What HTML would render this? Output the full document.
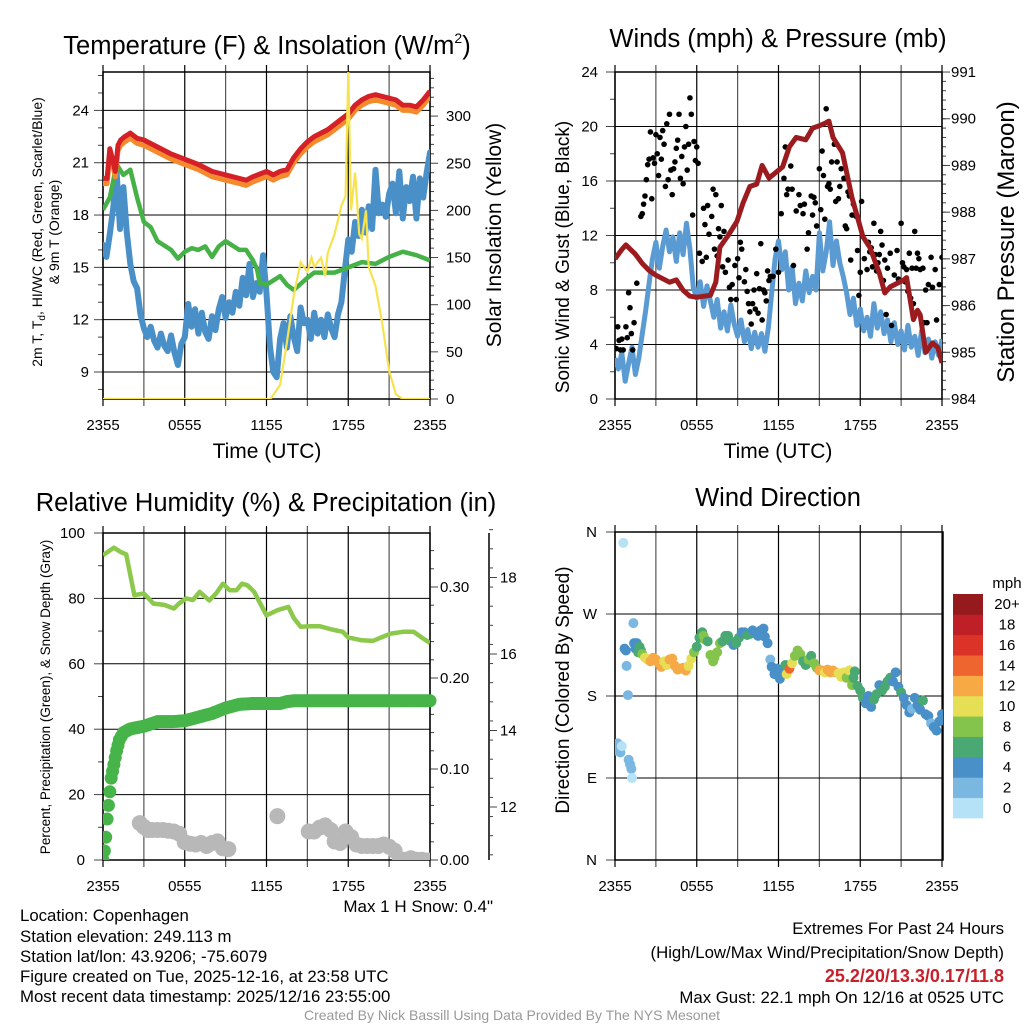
<!DOCTYPE html>
<html><head><meta charset="utf-8"><title>Mesonet Meteogram</title>
<style>
html,body{margin:0;padding:0;background:#fff;}
svg{display:block;font-family:"Liberation Sans",Arial,sans-serif;}
.nar{font-family:"Liberation Sans Narrow","Liberation Sans",sans-serif;}
</style></head>
<body>
<svg id="chart" xmlns="http://www.w3.org/2000/svg" width="1024" height="1024" viewBox="0 0 1024 1024">
<rect x="0" y="0" width="1024" height="1024" fill="#fff"/>
<defs>
<clipPath id="c1"><rect x="103" y="72" width="327" height="327"/></clipPath>
<clipPath id="c2"><rect x="615" y="72" width="327" height="327"/></clipPath>
<clipPath id="c3"><rect x="103" y="533" width="327" height="327"/></clipPath>
<clipPath id="c4"><rect x="615" y="532" width="328" height="328"/></clipPath>
</defs>
<g id="layer"></g>
<text x="267" y="54" font-size="25.5" text-anchor="middle">Temperature (F) &amp; Insolation (W/m<tspan font-size="14" dy="-11">2</tspan><tspan dy="11">)</tspan></text>
<text x="778" y="47" font-size="25.5" text-anchor="middle">Winds (mph) &amp; Pressure (mb)</text>
<text x="266" y="511" font-size="25.5" text-anchor="middle">Relative Humidity (%) &amp; Precipitation (in)</text>
<text x="778" y="506" font-size="25.5" text-anchor="middle">Wind Direction</text>
<text x="267" y="458" font-size="21" text-anchor="middle">Time (UTC)</text>
<text x="778" y="458" font-size="21" text-anchor="middle">Time (UTC)</text>
<text transform="translate(42,232) rotate(-90)" font-size="14" text-anchor="middle">2m T, T<tspan font-size="10" dy="3">d</tspan><tspan dy="-3">, HI/WC (Red, Green, Scarlet/Blue)</tspan></text>
<text transform="translate(59,232) rotate(-90)" font-size="14" text-anchor="middle">&amp; 9m T (Orange)</text>
<text transform="translate(501,235) rotate(-90)" font-size="21" text-anchor="middle">Solar Insolation (Yellow)</text>
<text transform="translate(569,257) rotate(-90)" font-size="19" text-anchor="middle">Sonic Wind &amp; Gust (Blue, Black)</text>
<text transform="translate(1014,242) rotate(-90)" font-size="24" text-anchor="middle">Station Pressure (Maroon)</text>
<text transform="translate(50,697) rotate(-90)" font-size="13.5" text-anchor="middle">Percent, Precipitation (Green), &amp; Snow Depth (Gray)</text>
<text transform="translate(569,690) rotate(-90)" font-size="19" text-anchor="middle">Direction (Colored By Speed)</text>
<text x="1007" y="588" font-size="15" text-anchor="middle">mph</text>
<g class="nar" font-size="16.8">
<text x="493" y="912" text-anchor="end" font-size="17">Max 1 H Snow: 0.4"</text>
<text x="20" y="921">Location: Copenhagen</text>
<text x="20" y="942">Station elevation: 249.113 m</text>
<text x="20" y="962">Station lat/lon: 43.9206; -75.6079</text>
<text x="20" y="982">Figure created on Tue, 2025-12-16, at 23:58 UTC</text>
<text x="20" y="1002">Most recent data timestamp: 2025/12/16 23:55:00</text>
<text x="1004" y="934" text-anchor="end">Extremes For Past 24 Hours</text>
<text x="1004" y="958" text-anchor="end">(High/Low/Max Wind/Precipitation/Snow Depth)</text>
<text x="1004" y="982" text-anchor="end" fill="#c8202a" font-weight="bold" font-size="18">25.2/20/13.3/0.17/11.8</text>
<text x="1004" y="1003" text-anchor="end">Max Gust: 22.1 mph On 12/16 at 0525 UTC</text>
<text x="512" y="1020" text-anchor="middle" font-size="14" fill="#999">Created By Nick Bassill Using Data Provided By The NYS Mesonet</text>
</g>
</svg>
<script>
// ---- Panel 1 data ----
const xTickLabels = ["2355","0555","1155","1755","2355"];
const tempT = [0,0.3,0.5,0.7,0.9,1.1,1.3,1.6,2.0,2.5,3,4,5,6,7,8,9,10,10.5,11,12,12.5,13,13.5,14,14.5,15,15.5,16,16.5,17,17.5,18,18.5,19,19.5,20,20.5,21,21.5,22,22.5,23,23.5,24];
const tempV = [20.1,20.1,21.8,21.2,20.5,22.0,22.3,22.5,22.7,22.4,22.3,21.9,21.5,21.2,20.9,20.5,20.3,20.1,20.0,20.2,20.5,20.3,20.5,20.6,21.3,21.8,22.2,22.5,22.7,22.9,23.2,23.5,23.8,24.3,24.6,24.8,24.9,24.8,24.7,24.6,24.3,24.3,24.2,24.6,25.1];
const t9mOffset = [-0.3];
const dewT = [0,0.5,1,1.5,2,2.5,3,3.5,4,5,5.5,6,6.5,7,7.5,8,8.5,9,10,10.5,11,11.3,11.5,12,13,13.5,14,15,15.5,16,17,18,19,20,21,22,23,24];
const dewV = [18.3,19.0,20.9,20.3,20.6,19.0,17.6,17.3,16.5,16.0,15.5,15.9,16.1,16.0,16.2,15.6,16.2,16.5,16.0,16.0,15.4,14.9,14.1,14.0,14.5,14.0,13.7,14.4,14.7,14.7,14.7,15.0,15.3,15.2,15.6,15.9,15.7,15.4];
const wcStep = 0.25;
const wcV = [16.3,15.6,16.9,18.4,20.5,17.2,19.6,17.0,15.2,14.2,13.8,12.3,11.5,11.0,11.6,10.8,10.4,11.2,10.5,10.2,11.1,10.1,9.4,10.6,11.0,12.9,11.6,12.6,11.2,12.4,11.3,10.9,12.2,11.4,12.6,13.3,12.1,13.0,12.4,13.6,12.8,14.4,13.4,15.2,13.3,14.1,13.6,15.7,13.5,10.5,9.0,8.7,10.9,11.8,10.4,12.2,11.0,10.2,12.7,11.8,12.0,10.9,12.4,11.2,12.0,11.0,12.3,11.5,11.0,12.3,13.0,14.8,16.6,15.9,17.6,16.8,18.3,17.0,18.5,17.2,20.6,18.1,18.6,17.9,19.2,19.8,18.1,20.5,17.8,19.6,18.8,20.2,17.8,20.1,19.0,20.4,21.6];
const solT = [0,12.3,13,13.5,14,14.5,15,15.3,15.5,16,16.3,16.5,17,17.5,17.8,18.0,18.2,18.5,18.8,19,19.3,19.5,20,20.5,21,21.5,22,24];
const solV = [0,0,15,60,110,145,135,150,140,150,130,155,175,205,215,348,200,240,175,170,200,140,120,80,30,5,0,0];
const tempTicks = [9,12,15,18,21,24];
const solTicks = [0,50,100,150,200,250,300];
// ---- Panel 2 data ----
const windStep = 0.25;
const windV = [3.0,2.2,3.4,1.3,2.6,3.8,1.8,3.0,4.8,6.5,8.5,10.3,11.5,9.6,11.2,12.4,10.8,11.9,10.1,12.2,10.6,12.9,11.0,8.2,7.4,8.6,6.8,8.3,7.2,6.0,7.3,5.2,6.4,5.0,6.9,5.5,4.6,5.8,4.2,5.1,3.7,4.9,3.8,4.8,3.5,5.2,7.8,10.3,11.6,9.5,10.8,8.0,9.7,7.0,8.5,7.2,9.4,7.8,9.0,8.0,12.2,9.4,10.8,13.0,9.8,11.6,10.0,9.0,7.8,6.2,7.4,5.4,6.6,5.0,6.0,4.6,7.0,5.2,6.4,4.8,5.8,4.2,5.6,4.0,5.0,3.6,5.4,3.8,4.6,3.2,5.0,3.4,4.4,3.0,4.2,3.2,4.4];
const gustT = [0.1,0.2,0.3,0.4,0.5,0.6,0.8,0.9,1.0,1.1,1.2,1.3,1.4,1.6,1.9,2.0,2.1,2.2,2.3,2.4,2.5,2.6,2.7,2.8,2.9,3.0,3.1,3.2,3.3,3.4,3.5,3.6,3.7,3.8,3.9,4.0,4.1,4.2,4.3,4.4,4.5,4.6,4.7,4.8,4.9,5.0,5.1,5.2,5.3,5.4,5.5,5.6,5.7,5.8,5.9,6.0,6.1,6.2,6.4,6.5,6.6,6.7,6.8,6.9,7.1,7.2,7.3,7.4,7.5,7.6,7.7,7.8,7.9,8.0,8.1,8.3,8.4,8.5,8.6,8.8,8.9,9.0,9.1,9.2,9.3,9.5,9.6,9.7,9.8,9.9,10.0,10.1,10.2,10.3,10.4,10.5,10.6,10.7,10.8,10.9,11.0,11.1,11.2,11.3,11.4,11.6,11.8,12.0,12.2,12.4,12.5,12.6,12.7,12.9,13.0,13.1,13.3,13.5,13.6,13.8,13.9,14.1,14.2,14.4,14.5,14.6,14.7,14.8,15.0,15.1,15.2,15.3,15.4,15.5,15.6,15.7,15.8,15.9,16.1,16.2,16.3,16.4,16.5,16.6,16.8,16.9,17.0,17.1,17.2,17.3,17.4,17.5,17.6,17.7,17.8,17.9,18.0,18.1,18.3,18.5,18.6,18.7,18.8,18.9,19.0,19.1,19.2,19.3,19.4,19.5,19.6,19.7,19.8,19.9,20.0,20.2,20.3,20.5,20.7,20.8,21.0,21.1,21.2,21.3,21.4,21.5,21.6,21.7,21.8,21.9,22.0,22.1,22.2,22.3,22.4,22.6,22.7,22.8,22.9,23.0,23.2,23.3,23.5,23.6,23.8,24.0];
const gustV = [3.7,5.3,4.3,3.6,4.4,3.6,5.3,4.5,7.8,6.7,4.8,3.6,5.6,8.5,13.4,13.6,14.3,14.9,16.1,17.2,17.6,19.6,14.7,17.7,17.3,19.4,18.0,16.4,19.2,17.6,19.7,18.7,15.6,20.2,16.1,20.9,16.8,15.0,16.9,17.4,18.4,19.0,20.9,16.2,17.8,15.8,18.5,20.0,16.8,18.7,22.1,20.9,13.5,18.9,17.5,18.5,17.3,10.7,10.1,14.0,12.8,10.4,14.2,12.1,13.4,15.4,11.0,15.0,10.5,12.5,11.9,14.2,9.7,12.3,9.3,10.2,8.2,7.3,8.4,9.8,7.3,10.3,8.9,11.5,11.0,8.6,9.5,7.9,7.0,6.4,5.5,7.0,8.0,6.6,9.2,6.3,8.1,11.4,5.8,8.0,7.8,7.2,9.4,8.7,9.0,9.0,11.0,9.3,13.6,16.2,18.5,15.0,15.4,17.1,15.4,9.8,13.8,15.0,14.2,13.6,14.3,11.0,12.2,14.9,13.5,14.8,14.4,12.7,16.9,13.9,18.2,16.4,13.2,21.3,15.6,15.8,15.4,17.4,18.7,14.5,17.4,14.7,15.6,16.9,16.2,12.7,12.5,15.2,14.9,10.2,13.5,14.3,13.5,13.4,10.9,7.6,9.3,14.5,10.3,9.5,11.5,10.8,11.1,9.7,12.9,10.6,9.4,10.0,10.6,12.3,11.3,8.7,10.2,6.2,9.6,10.7,5.4,9.1,10.9,8.8,12.9,10.0,9.7,8.6,9.5,7.9,10.7,7.4,9.6,7.0,12.3,9.6,10.7,10.3,9.5,9.6,5.6,8.0,5.6,8.4,10.4,8.2,9.5,5.8,8.4,10.4];
const presT = [0,0.5,0.8,1.5,2,2.5,3,4,4.5,5,5.5,6,7,7.4,7.7,8.3,8.95,9.4,9.9,10.4,10.8,11.3,12.3,12.8,13.3,14,14.5,15.0,15.4,15.7,16,16.7,17.4,18.2,18.7,19.4,19.8,20.2,21.2,21.4,21.9,22.2,22.4,22.8,23.3,23.7,24];
const presV = [987.0,987.2,987.3,987.1,986.9,986.75,986.65,986.5,986.55,986.33,986.2,986.18,986.22,986.5,987.25,987.5,987.8,988.2,988.55,988.6,989.0,988.73,988.97,989.4,989.6,989.55,989.8,989.85,989.9,989.95,989.6,989.27,988.3,987.47,987.25,986.7,986.27,986.4,986.55,986.6,985.7,985.9,985.8,985.0,985.2,985.1,984.77];
const windTicks = [0,4,8,12,16,20,24];
const presTicks = [984,985,986,987,988,989,990,991];
// ---- Panel 3 data ----
const rhT = [0,0.8,1.3,1.7,2.3,3,3.7,4.5,5.2,5.6,6.1,6.6,7.1,7.8,8.3,8.8,9.3,9.8,10.2,10.6,11.1,11.6,12.0,12.8,13.6,14.0,14.5,15.2,15.9,16.8,17.6,18.0,18.4,19.0,19.8,20.5,21.1,22.0,22.8,23.4,24];
const rhV = [93.2,95.5,94.2,93.5,81,81.5,78.4,78,76.9,78.5,80,79.5,82,79.4,81.5,84.5,82.5,82.5,84.5,84,82,78,74.8,76.4,77.4,74,71.3,71.5,71.5,70.5,69.8,68,67.7,67.2,67,68.2,69.2,69.8,69.8,68,66.4];
const precT = [0,0.1,0.2,0.3,0.4,0.5,0.6,0.8,1.0,1.2,1.5,2.0,3.0,4.0,5.0,6.0,7.0,8.0,9.0,10.0,11.0,12.0,13.0,13.5,14,24];
const precV = [0,0.01,0.025,0.045,0.06,0.075,0.09,0.105,0.12,0.132,0.14,0.144,0.147,0.152,0.152,0.153,0.157,0.161,0.167,0.171,0.172,0.172,0.172,0.174,0.175,0.175];
const snowT = [2.7,3.0,3.3,3.6,4.0,4.4,4.8,5.2,5.6,6.0,6.4,6.8,7.2,7.6,8.0,8.4,8.8,9.2,12.8,15.1,15.5,15.9,16.3,16.7,17.0,17.4,17.8,18.2,18.6,19.0,19.4,19.8,20.2,20.6,21.0,21.4,21.8,22.2,22.6,23.0,23.4,23.8,24.0];
const snowV = [11.58,11.48,11.40,11.40,11.40,11.40,11.38,11.36,11.30,11.08,11.04,11.02,11.06,10.98,11.06,11.10,10.92,10.90,11.76,11.36,11.36,11.46,11.52,11.40,11.10,11.06,11.36,11.22,11.02,10.98,10.98,10.98,10.98,11.02,10.96,10.86,10.64,10.62,10.66,10.62,10.62,10.60,10.60];
const rhTicks = [0,20,40,60,80,100];
const precTicks = [0.00,0.10,0.20,0.30];
const snowTicks = [12,14,16,18];
// ---- Panel 4 data ----
const dirT = [0.0,0.1,0.2,0.3,0.4,0.5,0.61,0.7,0.8,0.85,0.95,1.0,1.1,1.2,1.25,1.35,1.4,1.5,1.6,1.7,1.8,1.9,2.0,2.2,2.4,2.6,2.8,3.0,3.2,3.4,3.6,3.8,4.0,4.2,4.4,4.6,4.8,5.0,5.2,5.4,5.6,5.8,6.0,6.2,6.4,6.5,6.6,6.8,7.0,7.2,7.3,7.5,7.7,7.9,8.1,8.3,8.5,8.7,8.9,9.1,9.3,9.5,9.7,9.9,10.1,10.3,10.5,10.7,10.9,11.0,11.2,11.4,11.5,11.7,11.9,12.1,12.3,12.5,12.6,12.8,13.0,13.2,13.4,13.6,13.8,14.0,14.2,14.4,14.6,14.8,15.0,15.2,15.4,15.6,15.8,16.0,16.2,16.4,16.6,16.8,17.0,17.2,17.4,17.5,17.6,17.8,18.0,18.2,18.4,18.6,18.8,19.0,19.2,19.4,19.6,19.8,20.0,20.2,20.4,20.6,20.8,21.0,21.2,21.4,21.6,21.8,22.0,22.2,22.4,22.6,22.8,23.0,23.2,23.4,23.6,23.8,24.0];
const dirV = [127,120,128,124,118,125,348,232,230,213,181,110,105,100,90,260,238,232,238,228,234,230,226,222,220,218,222,220,216,212,218,214,220,221,213,209,210,211,208,213,221,228,234,244,250,246,242,240,225,218,222,228,238,240,246,246,240,236,238,244,250,250,247,248,252,250,246,252,254,245,238,220,212,204,210,199,206,214,204,210,216,224,230,226,218,214,220,224,216,211,208,208,206,209,206,208,206,205,201,206,200,208,192,200,207,191,186,178,172,180,168,176,182,192,186,190,196,200,196,206,190,184,178,170,162,166,178,170,165,175,160,158,150,146,142,152,160];
const dirSpd = [3,3,2,2,3,1,1,4,4,3,3,3,3,3,1,3,4,5,5,7,7,6,9,10,11,12,12,13,12,12,10,11,12,12,12,12,12,13,12,11,10,8,7,7,7,8,8,7,9,8,8,8,8,7,6,7,6,4,6,6,4,4,6,6,4,4,4,4,4,4,4,3,4,4,4,4,4,6,10,14,10,9,8,8,7,7,8,6,8,9,12,13,11,12,13,12,12,10,10,10,9,10,8,7,7,6,6,6,4,4,4,6,6,4,7,6,7,6,4,4,4,6,5,4,4,3,4,5,4,6,4,4,3,4,4,4,4];
const dirTickLabels = ["N","E","S","W","N"];
const speedBinLabels = ["0","2","4","6","8","10","12","14","16","18","20+"];

const NS = "http://www.w3.org/2000/svg";
const layer = document.getElementById("layer");
function mk(tag, attrs, parent){
  const e = document.createElementNS(NS, tag);
  for (const k in attrs) e.setAttribute(k, attrs[k]);
  (parent || layer).appendChild(e);
  return e;
}
const speedColors = ["#b5e2f7","#7ab8e2","#4a90c8","#4aa873","#84c44c","#e6df55","#f6a944","#ef6530","#dc3329","#bf1f26","#941a1d"];
function speedColor(s){ return speedColors[Math.min(10, Math.max(0, Math.floor(s/2)))]; }
const xs = t => t*13.625;

function frame(x0,y0,x1,y1,name){
  const g = mk("g",{});
  
  
  for (let h=0; h<=24; h+=3){
    const x = x0 + xs(h);
    const l = mk("line",{x1:x,y1:y0-7,x2:x,y2:y1+7,stroke:(h%6===0)?"#000":"#555","stroke-width":1.2},g);
    
    
  }
  xTickLabels.forEach((s,i)=>{
    const tx = mk("text",{x:x0+xs(i*6),y:y1+31,"font-size":15,"text-anchor":"middle"},g);
    tx.textContent = s;
    
    
  });
  return g;
}
function hline(x0,x1,y,g){
  const l = mk("line",{x1:x0,y1:y,x2:x1,y2:y,stroke:"#000","stroke-width":1},g);
  
  
}
function tick(x,y,len,g){
  const l = mk("line",{x1:x,y1:y,x2:x+len,y2:y,stroke:"#444","stroke-width":1},g);
  
  
}
function label(x,y,s,anchor,g,size){
  const tx = mk("text",{x:x,y:y,"font-size":size||15,"text-anchor":anchor},g);
  tx.textContent = s;
  
  
}
function border(x0,y0,x1,y1,g){
  const r = mk("rect",{x:x0,y:y0,width:x1-x0,height:y1-y0,fill:"none",stroke:"#000","stroke-width":1.5},g);
  
  
}
function pathFrom(ts, vs, fx, fy){
  return ts.map((t,i)=>(i?"L":"M")+fx(t).toFixed(1)+","+fy(vs[i]).toFixed(1)).join("");
}

// ===== Panel 1 =====
(function(){
  const x0=103,y0=72,x1=430,y1=399;
  const X = t => x0 + xs(t);
  const YT = v => 372 - (v-9)*17.44;
  const YI = v => 399 - v*0.943;
  const g = frame(x0,y0,x1,y1,"temperature");
  tempTicks.forEach(v=>{ hline(x0,x1,YT(v),g); tick(x0-9,YT(v),9,g); label(x0-14,YT(v)+5,String(v),"end",g); });
  for (let v=8; v<=26; v++){ if (v%3) tick(x0-5,YT(v),5,g); }
  solTicks.forEach(v=>{ tick(x1,YI(v),8,g); label(x1+16,YI(v)+5,String(v),"start",g); });
  for (let v=10; v<=340; v+=10){ if (v%50) tick(x1,YI(v),4,g); }
  border(x0,y0,x1,y1,g);
  const c = mk("g",{"clip-path":"url(#c1)"});
  
  
  const wcT = wcV.map((v,i)=>i*wcStep);
  const wc = mk("path",{d:pathFrom(wcT,wcV,X,YT),fill:"none",stroke:"#4a90c8","stroke-width":6,"stroke-linejoin":"round","stroke-linecap":"round"},c);
  
  
  const dew = mk("path",{d:pathFrom(dewT,dewV,X,YT),fill:"none",stroke:"#45b146","stroke-width":4.5,"stroke-linejoin":"round"},c);
  
  
  const t9 = mk("path",{d:pathFrom(tempT,tempV.map(v=>v+t9mOffset[0]),X,YT),fill:"none",stroke:"#f58a2c","stroke-width":5,"stroke-linejoin":"round"},c);
  
  
  const t2 = mk("path",{d:pathFrom(tempT,tempV,X,YT),fill:"none",stroke:"#d42026","stroke-width":5,"stroke-linejoin":"round"},c);
  
  
  const sol = mk("path",{d:pathFrom(solT,solV,X,YI),fill:"none",stroke:"#f7e350","stroke-width":2.2},c);
  
  
})();

// ===== Panel 2 =====
(function(){
  const x0=615,y0=72,x1=942,y1=399;
  const X = t => x0 + xs(t);
  const YW = v => 399 - v*13.625;
  const YP = p => 399 - (p-984)*46.71;
  const g = frame(x0,y0,x1,y1,"wind");
  windTicks.forEach(v=>{ if(v>0&&v<24) hline(x0,x1,YW(v),g); tick(x0-9,YW(v),9,g); label(x0-17,YW(v)+5,String(v),"end",g); });
  for (let v=2; v<24; v+=4) tick(x0-5,YW(v),5,g);
  presTicks.forEach(v=>{ tick(x1,YP(v),8,g); label(x1+9,YP(v)+5,String(v),"start",g); });
  for (let v=984.2; v<991; v+=0.2){ tick(x1,YP(v),4,g); }
  border(x0,y0,x1,y1,g);
  const c = mk("g",{"clip-path":"url(#c2)"});
  
  
  const wT = windV.map((v,i)=>i*windStep);
  const w = mk("path",{d:pathFrom(wT,windV,X,YW),fill:"none",stroke:"#5b9bd3","stroke-width":5,"stroke-linejoin":"round"},c);
  
  
  gustT.forEach((t,i)=>{
    const d = mk("circle",{cx:X(t),cy:YW(gustV[i]),r:2.8,fill:"#000"},c);
    
    
  });
  const p = mk("path",{d:pathFrom(presT,presV,X,YP),fill:"none",stroke:"#9b1b1e","stroke-width":5,"stroke-linejoin":"round"},c);
  
  
})();

// ===== Panel 3 =====
(function(){
  const x0=103,y0=533,x1=430,y1=860;
  const X = t => x0 + xs(t);
  const YR = v => 860 - v*3.27;
  const YPr = v => 860 - v*910;
  const YS = v => 807 - (v-12)*38.25;
  const g = frame(x0,y0,x1,y1,"humidity");
  rhTicks.forEach(v=>{ if(v>0&&v<100) hline(x0,x1,YR(v),g); tick(x0-9,YR(v),9,g); label(x0-18,YR(v)+5,String(v),"end",g); });
  for (let v=10; v<100; v+=20) tick(x0-5,YR(v),5,g);
  precTicks.forEach(v=>{ tick(x1,YPr(v),8,g); label(x1+10,YPr(v)+5,v.toFixed(2),"start",g); });
  for (let v=0.02; v<0.36; v+=0.02) tick(x1,YPr(v),4,g);
  const ax = mk("line",{x1:489,y1:533,x2:489,y2:860,stroke:"#000","stroke-width":1.5},g);
  
  
  snowTicks.forEach(v=>{ tick(489,YS(v),8,g); label(500,YS(v)+5,String(v),"start",g); });
  for (let v=10.75; v<19.3; v+=0.5){ tick(489,YS(v),4,g); }
  border(x0,y0,x1,y1,g);
  const c = mk("g",{"clip-path":"url(#c3)"});
  
  
  snowT.forEach((t,i)=>{
    const d = mk("circle",{cx:X(t),cy:YS(snowV[i]),r:8,fill:"#b8b8b8"},c);
    
    
  });
  const rh = mk("path",{d:pathFrom(rhT,rhV,X,YR),fill:"none",stroke:"#8cc84b","stroke-width":4.5,"stroke-linejoin":"round"},c);
  
  
  for (let k=0; k<precT.length-1; k++){
    const n = Math.max(1, Math.round((precT[k+1]-precT[k])*8));
    for (let j=0; j<n; j++){
      const f = j/n;
      const t = precT[k] + f*(precT[k+1]-precT[k]);
      const v = precV[k] + f*(precV[k+1]-precV[k]);
      const d = mk("circle",{cx:X(t),cy:YPr(v),r:6.5,fill:"#46b449"},c);
      
      
    }
  }
  const last = mk("circle",{cx:X(precT[precT.length-1]),cy:YPr(precV[precV.length-1]),r:6.5,fill:"#46b449"});
  
  
})();

// ===== Panel 4 =====
(function(){
  const x0=615,y0=532,x1=943,y1=860;
  const X = t => x0 + xs(t);
  const YD = d => 860 - d*0.9111;
  const g = frame(x0,y0,x1,y1,"direction");
  dirTickLabels.forEach((s,i)=>{ const y = YD(i*90); if(i>0&&i<4) hline(x0,x1,y,g); tick(x0-9,y,9,g); label(x0-18,y+5,s,"end",g); });
  border(x0,y0,x1,y1,g);
  const c = mk("g",{"clip-path":"url(#c4)"});
  
  
  dirT.forEach((t,i)=>{
    const d = mk("circle",{cx:X(t),cy:YD(dirV[i]),r:5,fill:speedColor(dirSpd[i])},c);
    
    
  });
  const bh = (818-594)/11;
  speedBinLabels.forEach((s,i)=>{
    const yTop = 594 + (10-i)*bh;
    const r = mk("rect",{x:953,y:yTop,width:30,height:bh+0.4,fill:speedColors[i]});
    
    
    const tx = mk("text",{x:1007,y:yTop+bh/2+5,"font-size":15,"text-anchor":"middle"});
    tx.textContent = s;
    
    
  });
})();
</script>
</body></html>
